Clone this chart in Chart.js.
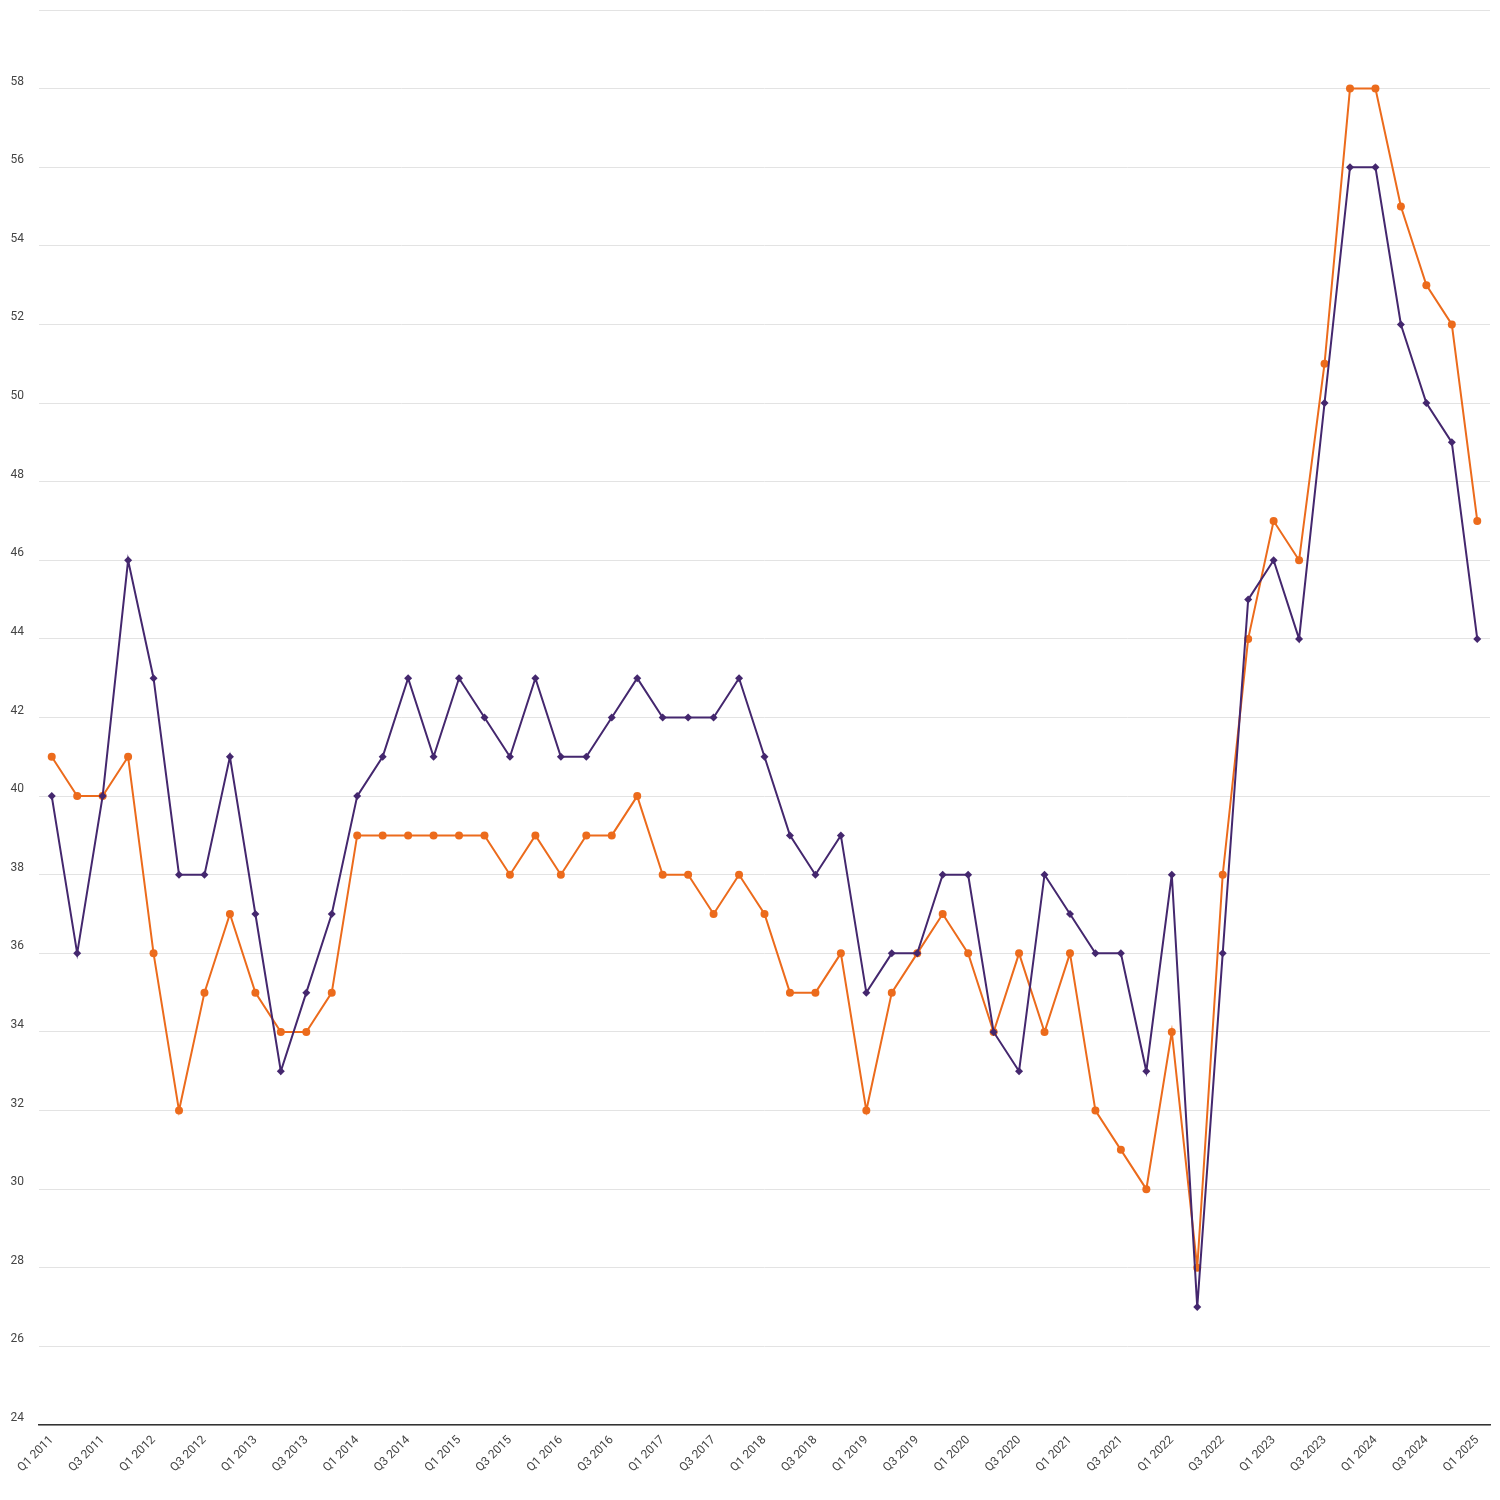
<!DOCTYPE html>
<html>
<head>
<meta charset="utf-8">
<script src="https://cdn.jsdelivr.net/npm/chart.js@4"></script>
<style>
  html, body { margin: 0; padding: 0; background: #fff; }
  #wrap { width: 1500px; height: 1500px; }
</style>
</head>
<body>
<div id="wrap"><canvas id="chart"></canvas></div>
<script>
// Quarter labels, Q1 2011 .. Q1 2025
const quarters = [];
for (let y = 2011; y <= 2025; y++) {
    for (let q = 1; q <= 4; q++) {
        if (y === 2025 && q > 1) break;
        quarters.push('Q' + q + ' ' + y);
    }
}

// Purple series (diamond markers)
const purpleValues = [
    40, 36, 40, 46, 43, 38, 38, 41, 37, 33, 35, 37,
    40, 41, 43, 41, 43, 42, 41, 43, 41, 41, 42, 43,
    42, 42, 42, 43, 41, 39, 38, 39, 35, 36, 36, 38,
    38, 34, 33, 38, 37, 36, 36, 33, 38, 27, 36, 45,
    46, 44, 50, 56, 56, 52, 50, 49, 44
];

// Orange series (circle markers)
const orangeValues = [
    41, 40, 40, 41, 36, 32, 35, 37, 35, 34, 34, 35,
    39, 39, 39, 39, 39, 39, 38, 39, 38, 39, 39, 40,
    38, 38, 37, 38, 37, 35, 35, 36, 32, 35, 36, 37,
    36, 34, 36, 34, 36, 32, 31, 30, 34, 28, 38, 44,
    47, 46, 51, 58, 58, 55, 53, 52, 47
];

const yMin = 24;
const yMax = 60;
const yStep = 2;

const purple = '#44276e';
const orange = '#ec6b1c';

const ctx = document.getElementById('chart').getContext('2d');
new Chart(ctx, {
    type: 'line',
    data: {
        labels: quarters,
        datasets: [{
            label: 'Purple',
            data: purpleValues,
            borderColor: purple,
            backgroundColor: purple,
            borderWidth: 2,
            pointStyle: 'rectRot',
            pointRadius: 4,
            pointBorderWidth: 0,
            tension: 0
        }, {
            label: 'Orange',
            data: orangeValues,
            borderColor: orange,
            backgroundColor: orange,
            borderWidth: 2,
            pointStyle: 'circle',
            pointRadius: 4,
            pointBorderWidth: 0,
            tension: 0
        }]
    },
    options: {
        responsive: true,
        maintainAspectRatio: false,
        animation: false,
        layout: {
            padding: { top: 10, right: 10, left: 0, bottom: 0 }
        },
        plugins: {
            legend: { display: false },
            tooltip: { enabled: false }
        },
        scales: {
            x: {
                offset: true,
                grid: { display: false, drawTicks: false },
                border: { display: true, color: '#333333', width: 1.5 },
                ticks: {
                    autoSkip: false,
                    maxRotation: 45,
                    minRotation: 45,
                    padding: 8,
                    color: '#444444',
                    font: { family: 'Roboto', size: 12 },
                    callback: function(value, index) {
                        return index % 2 === 0 ? quarters[index] : '';
                    }
                },
                afterFit: function(scale) { scale.height = 75; }
            },
            y: {
                min: yMin,
                max: yMax,
                grid: { color: '#e3e3e3', drawTicks: false },
                border: { display: false },
                ticks: {
                    stepSize: yStep,
                    padding: 15,
                    labelOffset: -7,
                    color: '#444444',
                    font: { family: 'Roboto', size: 12 },
                    callback: function(value) {
                        return value === yMax ? '' : value;
                    }
                },
                afterFit: function(scale) {
                    scale.width = 39;
                    scale.paddingTop = 0;
                    scale.paddingBottom = 0;
                }
            }
        }
    }
});
</script>
</body>
</html>
